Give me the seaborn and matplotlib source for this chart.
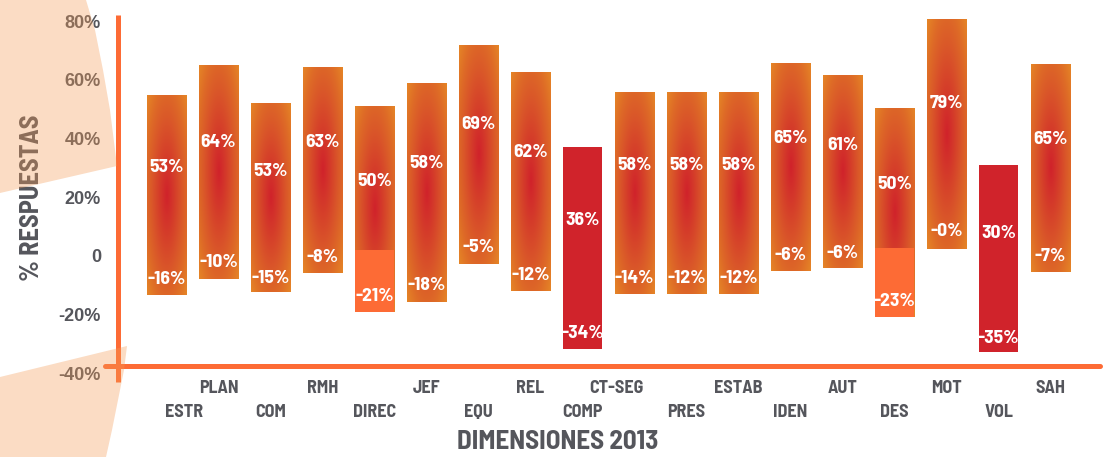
import numpy as np
import pandas as pd
import matplotlib
matplotlib.use("Agg")
import matplotlib.pyplot as plt
import matplotlib.transforms as mtransforms
from matplotlib.colors import LinearSegmentedColormap, to_rgb
from matplotlib.patches import Polygon
import seaborn as sns

# ---------------- data ----------------
categories = ["ESTR", "PLAN", "COM", "RMH", "DIREC", "JEF", "EQU", "REL", "COMP",
              "CT-SEG", "PRES", "ESTAB", "IDEN", "AUT", "DES", "MOT", "VOL", "SAH"]
bar_top = [54.9, 65.1, 52.2, 64.4, 51.1, 58.9, 71.9, 62.7, 37.2,
           55.9, 55.9, 55.9, 65.8, 61.7, 50.4, 80.7, 30.8, 65.5]
bar_bottom = [-13.3, -7.9, -12.5, -6.0, -19.3, -15.9, -2.9, -12.2, -31.8,
              -13.1, -13.1, -13.1, -5.2, -4.3, -20.9, 2.3, -32.9, -5.7]
high_labels = ["53%", "64%", "53%", "63%", "50%", "58%", "69%", "62%", "36%",
               "58%", "58%", "58%", "65%", "61%", "50%", "79%", "30%", "65%"]
low_labels = ["-16%", "-10%", "-15%", "-8%", "-21%", "-18%", "-5%", "-12%", "-34%",
              "-14%", "-12%", "-12%", "-6%", "-6%", "-23%", "-0%", "-35%", "-7%"]
split_categories = ["DIREC", "DES"]
split_level = [2.0, 2.5]
solid_categories = ["COMP", "VOL"]
y_ticks = [80, 60, 40, 20, 0, -20, -40]
y_tick_labels = ["80%", "60%", "40%", "20%", "0", "-20%", "-40%"]
x_title = "DIMENSIONES 2013"
y_title = "% RESPUESTAS"

# ---------------- style ----------------
W, H = 1114, 457
ORANGE = "#FD6B35"
RED = "#D0232B"
GRAY = "#55565C"
NARROW = ["Liberation Sans Narrow", "Barlow Semi Condensed", "DejaVu Sans"]
REGULAR = ["Liberation Sans", "DejaVu Sans"]

sns.set_style("white")
plt.rcParams["font.family"] = NARROW
plt.rcParams["font.weight"] = "bold"

fig = plt.figure(figsize=(W / 100, H / 100), dpi=100)
fig.patch.set_facecolor("white")
ax = fig.add_axes([117.5 / W, 84 / H, 982.5 / W, 358 / H])
n = len(categories)

# main floating bars
df = pd.DataFrame({"cat": categories,
                   "span": np.array(bar_top) - np.array(bar_bottom)})
sns.barplot(data=df, x="cat", y="span", order=categories, color=RED,
            saturation=1, width=0.75, errorbar=None, linewidth=0, ax=ax)
main_patches = list(ax.patches)

cmap = LinearSegmentedColormap.from_list(
    "bargrad",
    [(0.0, to_rgb("#D0222B")), (0.25, to_rgb("#D43A2A")), (0.55, to_rgb("#DA5829")),
     (0.75, to_rgb("#DE6A27")), (1.0, to_rgb("#E58526"))])

for p in main_patches:
    i = int(round(p.get_x() + p.get_width() / 2))
    p.set_y(bar_bottom[i])
    p.set_zorder(1)
    if categories[i] in solid_categories:
        continue
    p.set_facecolor("none")
    x0, w = p.get_x(), p.get_width()
    y0, h = bar_bottom[i], bar_top[i] - bar_bottom[i]
    uu, vv = np.meshgrid(np.linspace(-1, 1, 60), np.linspace(-1, 1, 200))
    d = np.sqrt(uu ** 2 + vv ** 2) / np.sqrt(2)
    im = ax.imshow(d, cmap=cmap, vmin=0, vmax=1, extent=(x0, x0 + w, y0, y0 + h),
                   aspect="auto", origin="lower", interpolation="bilinear", zorder=1.5)
    im.set_clip_path(p)

# lower solid segments
low_df = pd.DataFrame({"cat": split_categories,
                       "h": [split_level[k] - bar_bottom[categories.index(c)]
                             for k, c in enumerate(split_categories)]})
sns.barplot(data=low_df, x="cat", y="h", order=categories, color=ORANGE,
            saturation=1, width=0.75, errorbar=None, linewidth=0, ax=ax)
for p in ax.patches[len(main_patches):]:
    i = int(round(p.get_x() + p.get_width() / 2))
    p.set_y(bar_bottom[i])
    p.set_zorder(2)

# value labels
for i in range(n):
    h = bar_top[i] - bar_bottom[i]
    ax.text(i, bar_top[i] - 0.365 * h, high_labels[i], ha="center", va="center",
            color="white", fontsize=14, fontweight="bold", zorder=4)
    ax.text(i, bar_bottom[i] + 0.075 * h, low_labels[i], ha="center", va="center",
            color="white", fontsize=14, fontweight="bold", zorder=4)

ax.set_xlim(-0.942, 17.95)
ax.set_ylim(-40, 82.1)
sns.despine(ax=ax, left=True, bottom=True, top=True, right=True)
ax.grid(False)

# axis lines
ax.axhline(-37.5, xmin=-0.0127, xmax=1.0, color=ORANGE, lw=3.6, clip_on=False, zorder=3)
ax.plot([0, 0], [-0.025, 1.0], transform=ax.transAxes, color=ORANGE, lw=3.6,
        clip_on=False, zorder=3, solid_capstyle="butt")

# ticks
ax.set_yticks(y_ticks, y_tick_labels)
ax.tick_params(axis="y", length=0, pad=11.9, labelsize=13, labelcolor=GRAY)
for lab in ax.get_yticklabels():
    lab.set_fontfamily(REGULAR)
    lab.set_fontweight("bold")

ax.set_xticks(range(n), categories)
ax.tick_params(axis="x", length=0, pad=5.0, labelsize=13, labelcolor=GRAY)
x_shift = {"ESTR": 18, "CT-SEG": -18}
for i, lab in enumerate(ax.get_xticklabels()):
    lab.set_fontweight("bold")
    if i % 2 == 0:
        lab.set_y(-0.067)
    if categories[i] in x_shift:
        lab.set_transform(lab.get_transform() + mtransforms.ScaledTranslation(
            x_shift[categories[i]] / 100, 0, fig.dpi_scale_trans))

ax.set_xlabel(x_title, fontsize=19.5, fontweight="bold", color=GRAY, va="center")
ax.xaxis.set_label_coords(0.448, -0.193)
ax.set_ylabel(y_title, fontsize=19, fontweight="bold", color=GRAY, va="center")
ax.yaxis.set_label_coords(-0.087, 0.49)

# peach decoration (semi-transparent overlay)
a = 0.35
target = np.array(to_rgb("#FBDCC4"))
peach = tuple(np.clip((target - (1 - a)) / a, 0, 1))


def to_fig(pts):
    return [(x / W, 1 - y / H) for x, y in pts]


upper = [(0, 0), (86, 0), (95, 30), (103, 70), (110, 110), (115, 150), (117, 166), (0, 193)]
lower = [(0, 377), (127, 346), (124, 370), (118, 400), (112, 430), (106, 457), (0, 457)]
for pts in (upper, lower):
    fig.patches.append(Polygon(to_fig(pts), closed=True, transform=fig.transFigure,
                               facecolor=peach, alpha=a, edgecolor="none", zorder=10))

fig.savefig("out.png", dpi=100, facecolor="white")
